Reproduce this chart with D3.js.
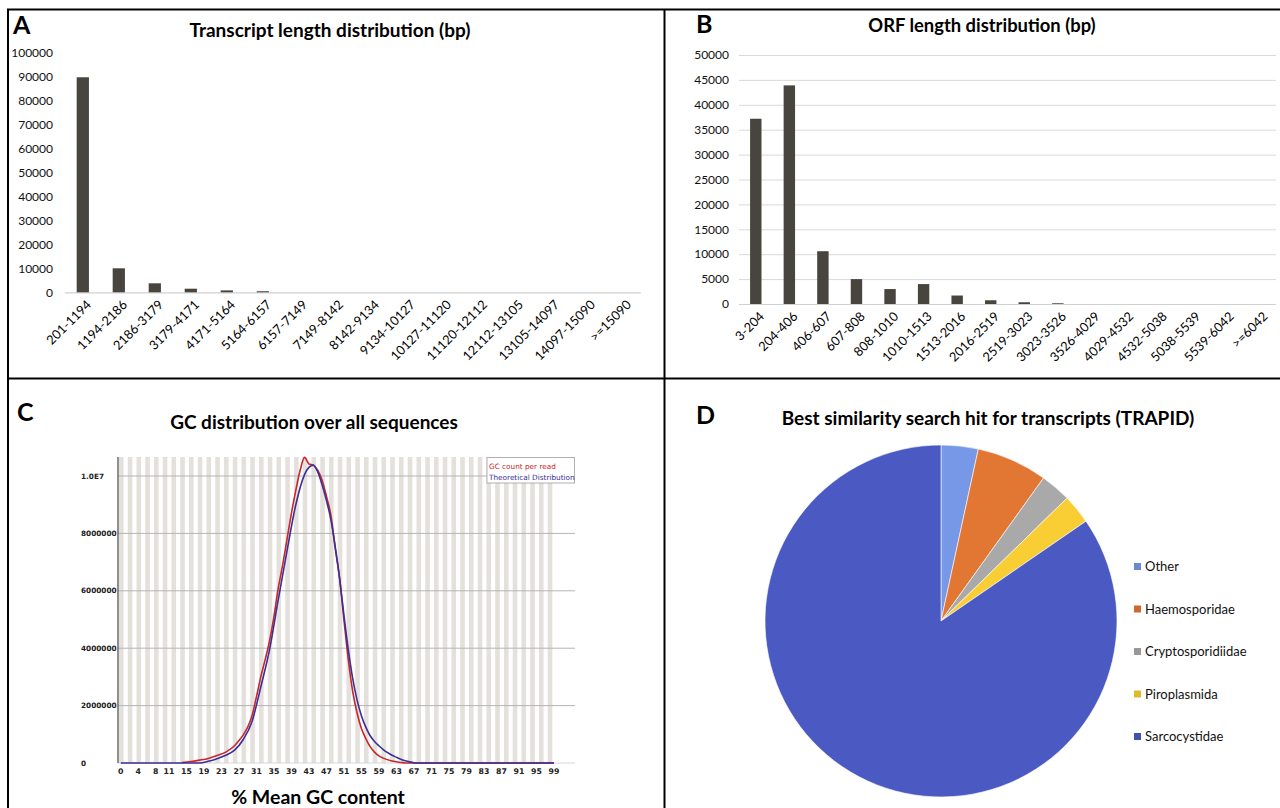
<!DOCTYPE html>
<html>
<head>
<meta charset="utf-8">
<script src="https://cdn.jsdelivr.net/npm/d3@7"></script>
<style>
  html, body { margin: 0; padding: 0; background: #fff; }
  svg { display: block; font-family: Lato, 'Open Sans', sans-serif; }
</style>
</head>
<body>
<svg id="fig" width="1280" height="808"></svg>
<script>
// panel A - transcript lengths
const transcriptBins = ['201-1194', '1194-2186', '2186-3179', '3179-4171', '4171-5164', '5164-6157', '6157-7149',
  '7149-8142', '8142-9134', '9134-10127', '10127-11120', '11120-12112', '12112-13105', '13105-14097', '14097-15090', '>=15090']
const transcriptCounts = [89600, 10000, 3750, 1500, 800, 450, 0, 0, 0, 0, 0, 0, 0, 0, 0, 0]
const transcriptTicks = [0, 10000, 20000, 30000, 40000, 50000, 60000, 70000, 80000, 90000, 100000]

// panel B - ORF lengths
const orfBins = ['3-204', '204-406', '406-607', '607-808', '808-1010', '1010-1513', '1513-2016', '2016-2519',
  '2519-3023', '3023-3526', '3526-4029', '4029-4532', '4532-5038', '5038-5539', '5539-6042', '>=6042']
const orfCounts = [37200, 43900, 10600, 5000, 3000, 4000, 1700, 750, 350, 150, 0, 0, 0, 0, 0, 0]
const orfTicks = [0, 5000, 10000, 15000, 20000, 25000, 30000, 35000, 40000, 45000, 50000]

// panel C - GC content (millions of reads), [gc %, value]
const gcCount = [[14, 0.02], [16, 0.05], [18, 0.1], [20, 0.16], [22, 0.26], [24, 0.38], [26, 0.6], [27, 0.78],
  [28, 0.98], [29, 1.25], [30, 1.65], [31, 2.3], [32, 3.0], [33, 3.6], [34, 4.25], [35, 5.1], [36, 6.1], [37, 6.9],
  [38, 7.8], [39, 8.7], [40, 9.5], [41, 10.2], [42, 10.65], [43, 10.42], [44, 10.38], [45, 10.2], [46, 9.86],
  [47, 9.3], [48, 8.65], [49, 7.5], [50, 6.45], [51, 5.0], [52, 3.6], [53, 2.5], [54, 1.75], [55, 1.2], [56, 0.85],
  [57, 0.57], [58, 0.38], [59, 0.25], [60, 0.17], [62, 0.07], [64, 0.02], [65, 0], [99, 0]]
const gcTheory = [[0, 0], [18, 0], [20, 0.06], [22, 0.15], [24, 0.27], [26, 0.45], [28, 0.82], [30, 1.45], [32, 2.65],
  [34, 3.95], [36, 5.7], [38, 7.4], [40, 9.0], [42, 10.05], [43, 10.3], [44, 10.38], [45, 10.15], [46, 9.7],
  [47, 9.15], [48, 8.5], [49, 7.55], [50, 6.45], [51, 5.15], [52, 3.95], [53, 2.95], [54, 2.2], [55, 1.65],
  [56, 1.25], [57, 0.95], [58, 0.75], [59, 0.6], [60, 0.47], [61, 0.36], [62, 0.27], [63, 0.2], [64, 0.13],
  [65, 0.08], [66, 0.04], [67, 0.01], [68, 0], [99, 0]]
const gcXTicks = [0, 4, 8, 11, 15, 19, 23, 27, 31, 35, 39, 43, 47, 51, 55, 59, 63, 67, 71, 75, 79, 83, 87, 91, 95, 99]
const gcYTicks = [0, 2000000, 4000000, 6000000, 8000000, 10000000]
const gcYLabels = ['0', '2000000', '4000000', '6000000', '8000000', '1.0E7']

// panel D - best hit taxa (%)
const taxa = ['Other', 'Haemosporidae', 'Cryptosporidiidae', 'Piroplasmida', 'Sarcocystidae']
const taxaShare = [3.4, 6.5, 2.8, 2.7, 84.6]
const taxaColors = ['#6a89cf', '#cb6a2e', '#989898', '#e0b92f', '#4351ae']

const svg = d3.select('#fig')
const barColor = '#48453f'

// frame lines
const frame = svg.append('g').attr('stroke', '#000').attr('stroke-width', 2)
frame.append('line').attr('x1', 7).attr('x2', 1280).attr('y1', 9.5).attr('y2', 9.5)
frame.append('line').attr('x1', 8).attr('x2', 8).attr('y1', 9).attr('y2', 808)
frame.append('line').attr('x1', 664.5).attr('x2', 664.5).attr('y1', 9).attr('y2', 808)
frame.append('line').attr('x1', 7).attr('x2', 1280).attr('y1', 378.5).attr('y2', 378.5)

function panelLetter(txt, x, y) {
  svg.append('text').attr('x', x).attr('y', y)
    .attr('font-size', 25).attr('font-weight', 700).attr('fill', '#000').text(txt)
}
function title(txt, x, y, size) {
  svg.append('text').attr('x', x).attr('y', y).attr('text-anchor', 'middle')
    .attr('font-size', size || 19).attr('font-weight', 700).attr('fill', '#000').text(txt)
}

function barPanel(cats, vals, ticks, o) {
  const x = d3.scaleBand().domain(cats).range([o.left, o.right]).paddingInner(0.66).paddingOuter(0.33)
  const y = d3.scaleLinear().domain([0, d3.max(ticks)]).range([o.bottom, o.top])
  const g = svg.append('g')

  if (o.grid) {
    g.append('g').selectAll('line').data(ticks.slice(1)).join('line')
      .attr('x1', o.left).attr('x2', o.right)
      .attr('y1', d => y(d) + 0.5).attr('y2', d => y(d) + 0.5)
      .attr('stroke', '#d9d9d9').attr('stroke-width', 1)
  }
  g.append('line').attr('x1', o.left).attr('x2', o.right)
    .attr('y1', o.bottom + 0.5).attr('y2', o.bottom + 0.5)
    .attr('stroke', '#d0d0d0').attr('stroke-width', 1.2)

  g.append('g').selectAll('rect').data(vals).join('rect')
    .attr('x', (d, i) => x(cats[i]))
    .attr('width', x.bandwidth())
    .attr('y', d => y(d))
    .attr('height', d => o.bottom - y(d))
    .attr('fill', barColor)

  // y labels
  g.append('g').selectAll('text').data(ticks).join('text')
    .attr('x', o.labelX).attr('y', d => y(d)).attr('dy', '0.35em')
    .attr('text-anchor', 'end').attr('font-size', 12).attr('fill', '#111')
    .text(d => d)

  // rotated category labels
  g.append('g').selectAll('text').data(cats).join('text')
    .attr('transform', d => 'translate(' + (x(d) + x.bandwidth() / 2 + 6) + ',' + (o.bottom + 10) + ') rotate(-45)')
    .attr('text-anchor', 'end').attr('dy', '0.35em')
    .attr('font-size', 12.8).attr('fill', '#000')
    .text(d => d)
}

// A
panelLetter('A', 13, 34)
title('Transcript length distribution (bp)', 330, 37)
barPanel(transcriptBins, transcriptCounts, transcriptTicks,
  { left: 64.8, right: 640.8, top: 52.3, bottom: 292.3, labelX: 53, grid: false })

// B
panelLetter('B', 696, 33)
title('ORF length distribution (bp)', 982, 32, 18.4)
barPanel(orfBins, orfCounts, orfTicks,
  { left: 739, right: 1276, top: 55, bottom: 304, labelX: 729, grid: true })

// C - GC distribution
panelLetter('C', 17, 421)
title('GC distribution over all sequences', 314, 429)
{
  const x = d3.scaleLinear().domain([0, 99]).range([120.8, 553.9])
  const y = d3.scaleLinear().domain([0, 10000000]).range([763, 476])
  const w = x(1) - x(0)
  const g = svg.append('g')
  const bins = d3.range(0, 100)
  g.append('g').selectAll('rect').data(bins.filter(i => i % 2 === 0)).join('rect')
    .attr('x', d => x(d) - w / 2 + 0.4).attr('width', w + 0.2)
    .attr('y', 457).attr('height', 763 - 457)
    .attr('fill', '#e4e0db')
  g.append('g').selectAll('line').data(gcYTicks).join('line')
    .attr('x1', 118).attr('x2', 575)
    .attr('y1', d => y(d)).attr('y2', d => y(d))
    .attr('stroke', d => d === 0 ? '#d6d6d6' : '#b4b4b4').attr('stroke-width', 1)
  g.append('line').attr('x1', 118).attr('x2', 118).attr('y1', 457).attr('y2', 763)
    .attr('stroke', '#6a6a6a').attr('stroke-width', 1.5)

  g.append('g').selectAll('text').data(gcYTicks).join('text')
    .attr('x', 81).attr('y', d => y(d)).attr('dy', '0.35em')
    .attr('font-family', 'DejaVu Sans').attr('font-size', 7.3).attr('font-weight', 700).attr('fill', '#222')
    .text((d, i) => gcYLabels[i])
  g.append('g').selectAll('text').data(gcXTicks).join('text')
    .attr('x', d => x(d)).attr('y', 774).attr('text-anchor', 'middle')
    .attr('font-family', 'DejaVu Sans').attr('font-size', 7.8).attr('font-weight', 700).attr('fill', '#222')
    .text(d => d)

  const line = d3.line().x(d => x(d[0])).y(d => y(d[1] * 1e6)).curve(d3.curveMonotoneX)
  g.append('path').datum(gcCount).attr('d', line)
    .attr('fill', 'none').attr('stroke', '#c8262a').attr('stroke-width', 1.6)
  g.append('path').datum(gcTheory).attr('d', line)
    .attr('fill', 'none').attr('stroke', '#3a2e98').attr('stroke-width', 1.6)

  // legend box
  g.append('rect').attr('x', 487).attr('y', 457.5).attr('width', 87.5).attr('height', 25.5)
    .attr('fill', '#fff').attr('stroke', '#b0b0b0').attr('stroke-width', 1)
  g.append('text').attr('x', 489).attr('y', 468.5).attr('font-family', 'DejaVu Sans').attr('font-size', 7.3)
    .attr('fill', '#c8262a').text('GC count per read')
  g.append('text').attr('x', 489).attr('y', 480).attr('font-family', 'DejaVu Sans').attr('font-size', 7.3)
    .attr('fill', '#3a2e98').text('Theoretical Distribution')

  svg.append('text').attr('x', 318).attr('y', 804).attr('text-anchor', 'middle')
    .attr('font-size', 19.5).attr('font-weight', 700).attr('fill', '#000').text('% Mean GC content')
}

// D - pie
panelLetter('D', 696, 424)
title('Best similarity search hit for transcripts (TRAPID)', 988, 425)
{
  const cx = 941, cy = 621, r = 176
  const defs = svg.append('defs')
  taxaColors.forEach((c, i) => {
    const gr = defs.append('linearGradient').attr('id', 'pg' + i)
      .attr('gradientUnits', 'userSpaceOnUse').attr('x1', 0).attr('x2', 0).attr('y1', cy - r).attr('y2', cy + r)
    gr.append('stop').attr('offset', 0).attr('stop-color', d3.color(c).brighter(0.3))
    gr.append('stop').attr('offset', 1).attr('stop-color', d3.color(c).darker(0.3))
  })
  const pie = d3.pie().sort(null).value(d => d)
  const arc = d3.arc().innerRadius(0).outerRadius(r)
  svg.append('g').attr('transform', 'translate(' + cx + ',' + cy + ')')
    .selectAll('path').data(pie(taxaShare)).join('path')
    .attr('d', arc)
    .attr('fill', (d, i) => 'url(#pg' + i + ')')
    .attr('stroke', '#fff').attr('stroke-width', 0.6)

  const lg = svg.append('g')
  lg.selectAll('rect').data(taxa).join('rect')
    .attr('x', 1134).attr('y', (d, i) => 563 + i * 42.5).attr('width', 7).attr('height', 7)
    .attr('fill', (d, i) => taxaColors[i])
  lg.selectAll('text').data(taxa).join('text')
    .attr('x', 1145).attr('y', (d, i) => 566.5 + i * 42.5).attr('dy', '0.35em')
    .attr('font-size', 13).attr('fill', '#111')
    .text(d => d)
}
</script>
</body>
</html>
